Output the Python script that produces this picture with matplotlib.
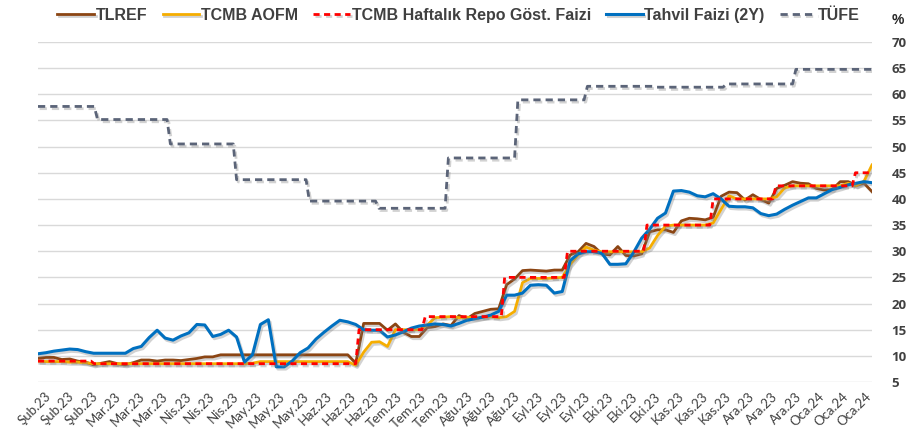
import numpy as np
import matplotlib
matplotlib.use("Agg")
import matplotlib.pyplot as plt
import matplotlib.patheffects as pe

# ---- data -------------------------------------------------------------
n_days = 253  # trading days, Feb 2023 - Jan 2024

# TLREF, TCMB AOFM and 2Y bond yield, sampled at regular intervals over the period
tlref = [9.5, 9.7, 9.7, 9.3, 9.4, 9.0, 8.8, 8.3, 8.6, 8.9,
         8.5, 8.3, 8.7, 9.2, 9.2, 9.0, 9.2, 9.2, 9.1, 9.3,
         9.5, 9.8, 9.8, 10.2, 10.2, 10.2, 10.2, 10.2, 10.2, 10.2,
         10.2, 10.2, 10.2, 10.2, 10.2, 10.2, 10.2, 10.2, 10.2, 10.2,
         8.6, 16.2, 16.2, 16.2, 14.9, 16.1, 14.5, 13.7, 13.7, 15.4,
         15.6, 16.1, 15.8, 17.7, 17.1, 18.1, 18.5, 18.9, 19.0, 23.6,
         24.7, 26.3, 26.4, 26.3, 26.2, 26.4, 26.4, 29.3, 29.9, 31.5,
         30.9, 29.5, 29.3, 30.9, 29.2, 29.1, 29.5, 33.7, 34.1, 34.1,
         33.6, 35.8, 36.3, 36.2, 36.0, 36.5, 40.5, 41.3, 41.2, 39.8,
         40.8, 39.9, 39.2, 42.0, 42.6, 43.3, 43.0, 42.9, 42.0, 41.7,
         41.8, 43.3, 43.3, 42.6, 43.0, 41.4]

aofm = [9.0, 8.9, 8.9, 8.9, 8.8, 8.8, 8.7, 8.5, 8.5, 8.5,
        8.5, 8.5, 8.5, 8.5, 8.5, 8.5, 8.5, 8.5, 8.5, 8.5,
        8.5, 8.5, 8.5, 8.5, 8.5, 8.5, 8.5, 8.6, 8.9, 8.9,
        8.9, 8.9, 8.9, 8.9, 8.9, 8.9, 8.9, 8.9, 8.9, 8.9,
        8.2, 10.7, 12.6, 12.7, 11.8, 15.0, 15.0, 15.0, 15.0, 15.9,
        17.3, 17.4, 17.5, 17.3, 17.4, 17.2, 17.4, 17.5, 17.3, 17.5,
        18.5, 24.0, 24.8, 24.8, 24.8, 24.9, 25.0, 27.5, 29.3, 30.8,
        30.2, 29.9, 29.9, 29.9, 29.9, 29.9, 29.9, 30.6, 33.0, 34.8,
        35.0, 35.0, 35.0, 35.0, 35.0, 35.4, 38.0, 40.6, 40.0, 40.0,
        40.0, 40.0, 40.0, 40.4, 42.1, 42.5, 42.5, 42.5, 42.5, 42.5,
        42.5, 42.5, 43.0, 42.5, 43.4, 46.5]

tahvil_2y = [10.4, 10.6, 10.9, 11.1, 11.3, 11.2, 10.8, 10.5, 10.5, 10.5,
             10.5, 10.5, 11.4, 11.8, 13.5, 14.9, 13.4, 13.0, 13.8, 14.4,
             16.0, 15.9, 13.7, 14.1, 14.9, 13.6, 8.8, 10.2, 16.0, 16.9,
             7.9, 7.9, 9.0, 10.6, 11.5, 13.2, 14.5, 15.7, 16.8, 16.5,
             16.0, 15.0, 14.9, 14.9, 13.6, 14.0, 14.6, 15.3, 15.7, 15.9,
             16.1, 16.0, 15.7, 16.2, 16.8, 17.1, 17.4, 17.8, 18.5, 21.6,
             21.6, 22.0, 23.5, 23.6, 23.5, 22.0, 22.3, 28.2, 29.5, 29.9,
             29.9, 29.6, 27.5, 27.5, 27.6, 29.8, 32.5, 34.2, 36.3, 37.3,
             41.5, 41.6, 41.3, 40.6, 40.4, 41.0, 40.0, 38.6, 38.5, 38.5,
             38.3, 37.2, 36.8, 37.1, 38.0, 38.8, 39.5, 40.2, 40.2, 41.0,
             41.8, 42.2, 42.7, 43.0, 43.3, 43.1]

# Policy rate: trading-day index where each rate takes effect
repo_start = [0, 17, 97, 117, 141, 160, 184, 204, 223, 247]
repo_rate = [9.0, 8.5, 15.0, 17.5, 25.0, 30.0, 35.0, 40.0, 42.5, 45.0]

# Annual CPI inflation (latest print in force)
tufe_start = [0, 18, 40, 60, 82, 103, 124, 145, 166, 187, 208, 229]
tufe_rate = [57.68, 55.18, 50.51, 43.68, 39.59, 38.21, 47.83, 58.94,
             61.53, 61.36, 61.98, 64.77]

tick_labels = (["Şub.23"] * 3 + ["Mar.23"] * 3 + ["Nis.23"] * 3 + ["May.23"] * 3 +
               ["Haz.23"] * 3 + ["Tem.23"] * 3 + ["Ağu.23"] * 3 + ["Eyl.23"] * 3 +
               ["Eki.23"] * 3 + ["Kas.23"] * 3 + ["Ara.23"] * 3 + ["Oca.24"] * 3)

# ---- helpers ------------------------------------------------------------
def step_series(starts, values, length):
    bounds = list(starts) + [length]
    return np.repeat(values, np.diff(bounds))

days = np.arange(n_days)
sample_days = np.linspace(0, n_days - 1, len(tlref))
repo_daily = step_series(repo_start, repo_rate, n_days)
tufe_daily = step_series(tufe_start, tufe_rate, n_days)

# ---- figure ----------------------------------------------------------------
fig = plt.figure(figsize=(9.21, 4.40), dpi=100)
ax = fig.add_axes([38 / 921, 1 - 382 / 440, (872 - 38) / 921, (382 - 42) / 440])

shadow = [pe.SimpleLineShadow(offset=(1.2, -1.6), shadow_color="#7f7f7f", alpha=0.35),
          pe.Normal()]

lw = 2.0
ax.plot(sample_days, tlref, color="#8B4513", lw=lw, label="TLREF",
        path_effects=shadow, zorder=3, solid_joinstyle="round")
ax.plot(sample_days, aofm, color="#F5AD00", lw=lw, label="TCMB AOFM",
        path_effects=shadow, zorder=4, solid_joinstyle="round")
ax.plot(days, repo_daily, color="#FF0000", lw=lw, ls=(0, (2.2, 1.6)),
        label="TCMB Haftalık Repo Göst. Faizi", path_effects=shadow, zorder=6)
ax.plot(sample_days, tahvil_2y, color="#0070C0", lw=lw + 0.2, label="Tahvil Faizi (2Y)",
        path_effects=shadow, zorder=5, solid_joinstyle="round")
ax.plot(days, tufe_daily, color="#5B6478", lw=lw, ls=(0, (2.6, 1.8)), label="TÜFE",
        path_effects=shadow, zorder=7)

ax.set_xlim(0, n_days - 1)
ax.set_ylim(5, 70)
ax.set_yticks(np.arange(5, 71, 5))
ax.yaxis.tick_right()
ax.grid(axis="y", color="#D9D9D9", lw=1.0, zorder=0)
ax.set_axisbelow(True)
for s in ax.spines.values():
    s.set_visible(False)
ax.tick_params(axis="y", length=0, pad=14, labelsize=9.5, labelcolor="#404040")
for t in ax.get_yticklabels():
    t.set_fontweight("bold")
    t.set_fontfamily("Open Sans")

tick_pos = np.linspace(2, n_days - 3, len(tick_labels))
ax.set_xticks(tick_pos)
ax.set_xticklabels(tick_labels, rotation=45, ha="right", va="top",
                   rotation_mode="anchor", fontsize=9.5, color="#404040",
                   fontfamily="Lato")
ax.tick_params(axis="x", length=0, pad=6)

fig.text(898 / 921, 1 - 20 / 440, "%", ha="center", va="center", fontsize=10,
         fontweight="bold", color="#262626", fontfamily="Liberation Sans")

leg = fig.legend(loc="upper center", bbox_to_anchor=(0.498, 1.015), ncol=5, frameon=False,
                 handlelength=2.3, handletextpad=0.1, columnspacing=0.95,
                 prop={"family": "Liberation Sans", "weight": "bold", "size": 11.5})
for t in leg.get_texts():
    t.set_color("#404040")

fig.savefig("out.png", dpi=100, facecolor="white")
